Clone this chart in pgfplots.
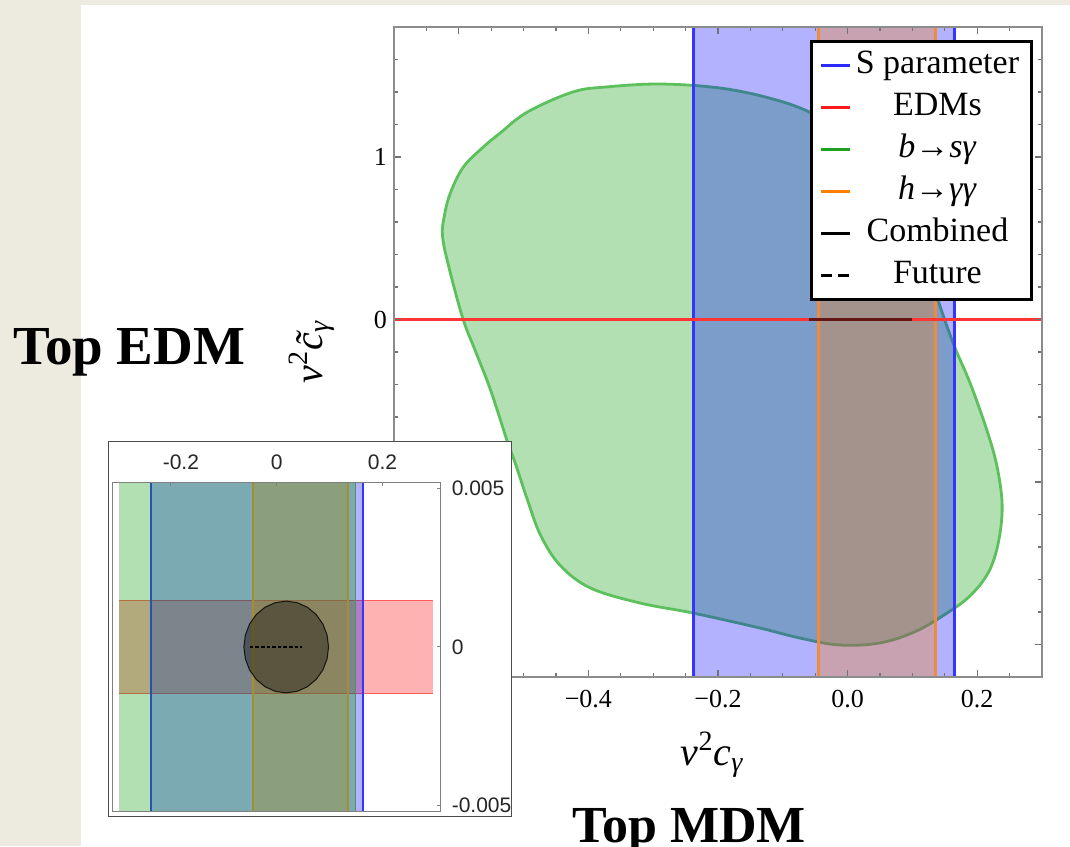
\documentclass[border=0pt]{standalone}
\usepackage{fontspec}
\setmainfont{Liberation Serif}
\newfontfamily\insetfont{Liberation Sans}
\usepackage{pgfplots}
\pgfplotsset{compat=1.18}
\definecolor{bgc}{HTML}{EDEADF}
\definecolor{grn}{rgb}{0,0.6,0}
\definecolor{grnedge}{HTML}{5CC05C}
\definecolor{blueedge}{HTML}{3535FF}
\definecolor{orng}{rgb}{1,0.5,0}
\definecolor{orngedge}{HTML}{F08A3C}
\definecolor{rededge}{HTML}{FF3535}
\definecolor{legblue}{HTML}{2B2BFF}
\definecolor{legred}{HTML}{FF1A1A}
\definecolor{leggreen}{HTML}{1FA01F}
\definecolor{legorange}{HTML}{FF8000}
\begin{document}
\begin{tikzpicture}
\useasboundingbox (0,0) rectangle (535pt,423pt);
\clip (0,0) rectangle (535pt,423pt);
\fill[white] (0,0) rectangle (535pt,423pt);
\fill[bgc] (0,0) rectangle (40.5pt,423pt);
\fill[bgc] (0,420.5pt) rectangle (535pt,423pt);

\begin{axis}[
  at={(197pt,84.5pt)}, anchor=south west,
  scale only axis, width=324pt, height=325pt,
  xmin=-0.7, xmax=0.3, ymin=-2.2, ymax=1.8,
  axis on top,
  axis line style={black!45, line width=0.8pt},
  tick align=inside,
  major tick length=3.6pt, minor tick length=2.2pt,
  every tick/.style={black!55, line width=0.6pt},
  xtick={-0.6,-0.4,-0.2,0,0.2},
  xticklabels={−0.6,−0.4,−0.2,0.0,0.2},
  minor xtick={-0.65,-0.55,-0.5,-0.45,-0.35,-0.3,-0.25,-0.15,-0.1,-0.05,0.05,0.1,0.15,0.25},
  ytick={-2,-1,0,1},
  yticklabels={−2,−1,0,1},
  minor ytick={-1.8,-1.6,-1.4,-1.2,-0.8,-0.6,-0.4,-0.2,0.2,0.4,0.6,0.8,1.2,1.4,1.6},
  tick label style={font=\fontsize{13}{15}\selectfont, text=black},
  xticklabel style={yshift=-3pt},
  xlabel={{\itshape v}\textsuperscript{2}{\itshape c}\textsubscript{\itshape γ}},
  ylabel={{\itshape v}\textsuperscript{2}{\itshape\~{c}}\textsubscript{\itshape γ}},
  xlabel style={at={(axis description cs:0.491,-0.12)}, anchor=center, font=\fontsize{20}{24}\selectfont},
  ylabel style={at={(axis description cs:-0.127,0.5)}, anchor=center, font=\fontsize{20}{24}\selectfont},
  legend style={at={(axis description cs:0.986,0.98)}, anchor=north east,
    draw=black, line width=1.5pt, fill=white,
    font=\fontsize{17}{20}\selectfont,
    inner xsep=4pt, inner ysep=3.5pt, row sep=4pt,
    nodes={inner sep=0pt, text height=12.5pt, text depth=4.5pt},
    /tikz/every even column/.append style={column sep=2pt}},
  legend cell align=center,
  legend image code/.code={\draw[#1] (0pt,0pt) -- (14.5pt,0pt);},
]
% green b -> s gamma region
\addplot[draw=grnedge, line width=1.4pt, fill=grn, fill opacity=0.3, smooth, tension=0.6, forget plot] coordinates {
(-0.525,-0.754) (-0.513,-0.883) (-0.494,-1.111) (-0.474,-1.326) (-0.444,-1.511)
(-0.397,-1.652) (-0.320,-1.745) (-0.239,-1.806) (-0.136,-1.898) (-0.074,-1.960)
(-0.013,-2.003) (0.049,-1.991) (0.103,-1.923) (0.149,-1.818) (0.187,-1.708)
(0.215,-1.572) (0.230,-1.418) (0.238,-1.215) (0.236,-1.031) (0.223,-0.785)
(0.192,-0.422) (0.164,-0.157) (0.141,0.102) (0.126,0.305) (0.103,0.582)
(0.064,0.889) (0.010,1.123) (-0.059,1.277) (-0.121,1.363) (-0.198,1.425)
(-0.290,1.449) (-0.372,1.431) (-0.424,1.400) (-0.494,1.277) (-0.536,1.148)
(-0.562,1.062) (-0.593,0.938) (-0.613,0.778) (-0.622,0.643) (-0.625,0.508)
(-0.613,0.286) (-0.593,-0.003) (-0.575,-0.188)
(-0.551,-0.434) (-0.525,-0.754)} -- cycle;
% blue S parameter band
\addplot[draw=none, fill=blue, fill opacity=0.3, forget plot] coordinates {(-0.238,-2.2) (0.165,-2.2) (0.165,1.8) (-0.238,1.8)} -- cycle;
\addplot[blueedge, line width=1.5pt, forget plot] coordinates {(-0.238,-2.2) (-0.238,1.8)};
\addplot[blueedge, line width=1.5pt, forget plot] coordinates {(0.165,-2.2) (0.165,1.8)};
% orange h -> gamma gamma band
\addplot[draw=none, fill=orng, fill opacity=0.3, forget plot] coordinates {(-0.045,-2.2) (0.136,-2.2) (0.136,1.8) (-0.045,1.8)} -- cycle;
\addplot[orngedge, line width=1.4pt, forget plot] coordinates {(-0.045,-2.2) (-0.045,1.8)};
\addplot[orngedge, line width=1.4pt, forget plot] coordinates {(0.136,-2.2) (0.136,1.8)};
% EDMs
\addplot[rededge, line width=1.3pt, forget plot] coordinates {(-0.7,0) (0.3,0)};
% combined
\addplot[black, opacity=0.6, line width=1.3pt, forget plot] coordinates {(-0.059,0) (0.1,0)};

\addlegendimage{legblue, line width=1.5pt}
\addlegendentry{\makebox[86pt]{S parameter}}
\addlegendimage{legred, line width=1.5pt}
\addlegendentry{\makebox[86pt]{EDMs}}
\addlegendimage{leggreen, line width=1.5pt}
\addlegendentry{\makebox[86pt]{\textit{b}→\textit{sγ}}}
\addlegendimage{legorange, line width=1.5pt}
\addlegendentry{\makebox[86pt]{\textit{h}→\textit{γγ}}}
\addlegendimage{black, line width=1.6pt}
\addlegendentry{\makebox[86pt]{Combined}}
\addlegendimage{black, line width=1.6pt, dash pattern=on 5.5pt off 3pt}
\addlegendentry{\makebox[86pt]{Future}}
\end{axis}

% inset
\filldraw[fill=white, draw=black!70, line width=0.5pt] (54.15pt,14.65pt) rectangle (255.85pt,202.15pt);
\begin{axis}[
  at={(56.35pt,17.15pt)}, anchor=south west,
  scale only axis, width=164pt, height=164.7pt,
  xmin=-0.31, xmax=0.31, ymin=-0.0052, ymax=0.0052,
  axis on top,
  axis line style={black!50, line width=0.6pt},
  xtick={-0.2,0,0.2}, xticklabels={\kern10pt-0.2,0,0.2},
  ytick={-0.005,0,0.005},
  yticklabels={-0.005,0,0.005},
  scaled x ticks=false, scaled y ticks=false,
  xtick pos=right, ytick pos=right, xticklabel pos=right, yticklabel pos=right,
  tick align=inside, major tick length=1.8pt,
  every tick/.style={black!50, line width=0.5pt},
  tick label style={font=\insetfont\fontsize{10.5}{12}\selectfont, text=black!85},
  xticklabel style={yshift=3pt}, yticklabel style={xshift=2pt},
]
% red EDM band
\addplot[draw=none, fill=red, fill opacity=0.3] coordinates {(-0.298,-0.00146) (0.296,-0.00146) (0.296,0.00146) (-0.298,0.00146)} -- cycle;
\addplot[rededge, line width=0.6pt, opacity=0.8] coordinates {(-0.298,0.00146) (0.296,0.00146)};
\addplot[rededge, line width=0.6pt, opacity=0.8] coordinates {(-0.298,-0.00146) (0.296,-0.00146)};
% blue band
\addplot[draw=none, fill=blue, fill opacity=0.3] coordinates {(-0.238,-0.0052) (0.163,-0.0052) (0.163,0.0052) (-0.238,0.0052)} -- cycle;
\addplot[blueedge, line width=0.8pt] coordinates {(-0.238,-0.0052) (-0.238,0.0052)};
\addplot[blueedge, line width=0.9pt] coordinates {(0.163,-0.0052) (0.163,0.0052)};
% orange band
\addplot[draw=none, fill=orng, fill opacity=0.3] coordinates {(-0.045,-0.0052) (0.135,-0.0052) (0.135,0.0052) (-0.045,0.0052)} -- cycle;
\addplot[orngedge, line width=0.8pt] coordinates {(-0.045,-0.0052) (-0.045,0.0052)};
\addplot[orngedge, line width=0.8pt] coordinates {(0.135,-0.0052) (0.135,0.0052)};
% green band
\addplot[draw=none, fill=grn, fill opacity=0.3] coordinates {(-0.298,-0.0052) (0.149,-0.0052) (0.149,0.0052) (-0.298,0.0052)} -- cycle;
\addplot[grnedge!80!black, line width=0.5pt] coordinates {(0.149,-0.0052) (0.149,0.0052)};
% combined region
\addplot[draw=black, draw opacity=0.8, line width=0.5pt, fill=black, fill opacity=0.36] coordinates {
(0.098,0) (0.0953,0.000375) (0.0873,0.000725) (0.0746,0.001025) (0.058,0.001256) (0.0387,0.0014)
(0.018,0.00145) (-0.0027,0.0014) (-0.022,0.001256) (-0.0386,0.001025) (-0.0513,0.000725) (-0.0593,0.000375)
(-0.062,0) (-0.0593,-0.000375) (-0.0513,-0.000725) (-0.0386,-0.001025) (-0.022,-0.001256) (-0.0027,-0.0014)
(0.018,-0.00145) (0.0387,-0.0014) (0.058,-0.001256) (0.0746,-0.001025) (0.0873,-0.000725) (0.0953,-0.000375)} -- cycle;
% future
\addplot[black, line width=1pt, dash pattern=on 1.8pt off 1pt] coordinates {(-0.051,0) (0.047,0)};
\end{axis}

\node[anchor=base west, inner sep=0pt, font=\fontsize{27.5}{32}\selectfont\bfseries] at (6.5pt,240.5pt) {Top EDM};
\node[anchor=base, inner sep=0pt, font=\fontsize{26}{30}\selectfont\bfseries] at (344.5pt,2pt) {Top MDM};
\end{tikzpicture}
\end{document}
